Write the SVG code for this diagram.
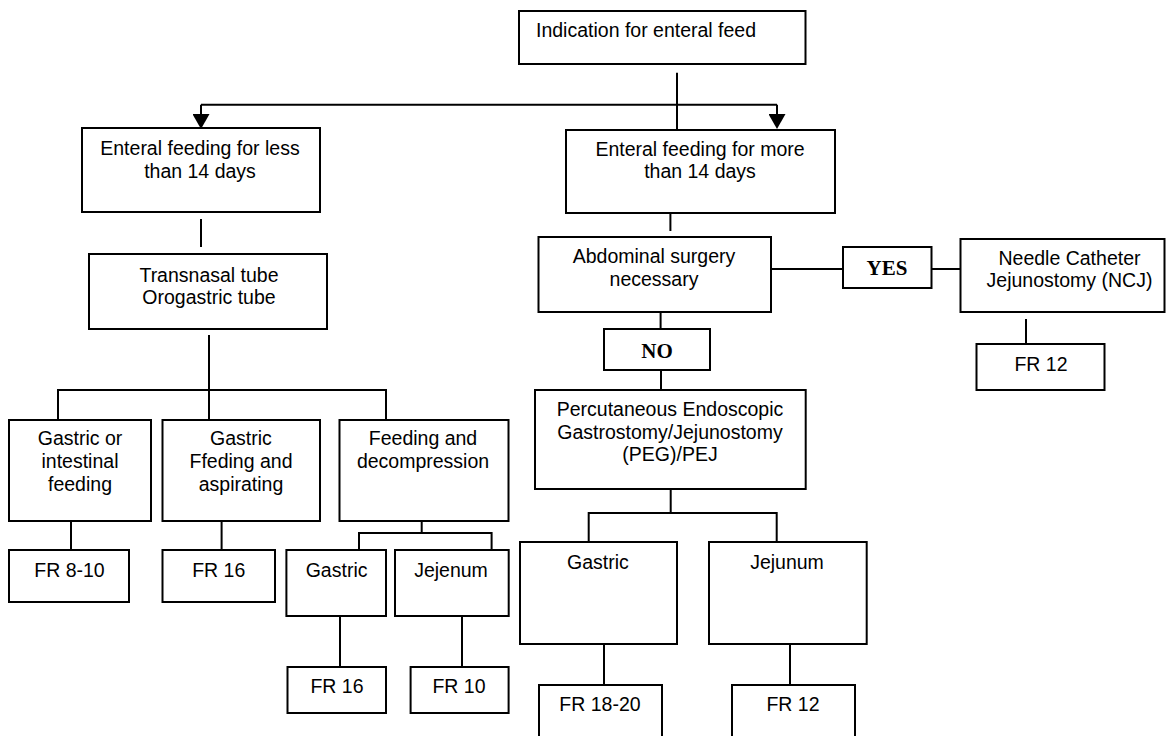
<svg xmlns="http://www.w3.org/2000/svg" width="1166" height="736" viewBox="0 0 1166 736">
<style>
rect{fill:#fff;stroke:#000;stroke-width:2}
.c path{fill:none;stroke:#000;stroke-width:2}
text{font-family:"Liberation Sans",Arial,Helvetica,sans-serif;font-size:19.5px;fill:#000;text-anchor:middle}
text.l{text-anchor:start}
text.b{font-family:"Liberation Serif","Times New Roman",serif;font-weight:bold;font-size:21px}
</style>
<defs>
<marker id="arr" markerUnits="userSpaceOnUse" markerWidth="16" markerHeight="17" refX="0" refY="8.5" orient="auto">
<path d="M0,0 L15,8.5 L0,17 z" fill="#000"/>
</marker>
</defs>
<rect x="0" y="0" width="1166" height="736" style="stroke:none"/>
<g class="c" id="connectors">
<path d="M677,72.7 V130"/>
<path d="M201,104.7 H777"/>
<path d="M201,104.7 V114" marker-end="url(#arr)"/>
<path d="M777,104.7 V114" marker-end="url(#arr)"/>
<path d="M201,219 V247"/>
<path d="M209,335 V420"/>
<path d="M58,420 V390 H386 V420"/>
<path d="M71,521 V550"/>
<path d="M221.6,521 V550"/>
<path d="M421.7,521 V533"/>
<path d="M359,550 V533 H491.6 V551"/>
<path d="M340,616 V667"/>
<path d="M462,616 V667"/>
<path d="M670.4,213 V231"/>
<path d="M771,269 H843"/>
<path d="M931.5,269 H960.5"/>
<path d="M1026,319 V344"/>
<path d="M660.6,312 V329"/>
<path d="M661,370 V390"/>
<path d="M670.7,489 V513"/>
<path d="M588.7,542 V513 H776.7 V542"/>
<path d="M604,644 V685"/>
<path d="M790,644 V685"/>
</g>
<g id="n-indication"><rect x="519" y="11" width="286.5" height="53"/><text class="l" x="536" y="37">Indication for enteral feed</text></g>
<g id="n-less14"><rect x="82" y="128" width="238" height="84"/><text x="200" y="155">Enteral feeding for less</text><text x="200" y="178">than 14 days</text></g>
<g id="n-more14"><rect x="566" y="130" width="269" height="83"/><text x="700" y="156">Enteral feeding for more</text><text x="700" y="178">than 14 days</text></g>
<g id="n-transnasal"><rect x="89" y="254" width="238" height="75"/><text x="209" y="282">Transnasal tube</text><text x="209" y="304">Orogastric tube</text></g>
<g id="n-gastric-intestinal"><rect x="9" y="420" width="142" height="101"/><text x="80" y="445">Gastric or</text><text x="80" y="468">intestinal</text><text x="80" y="491">feeding</text></g>
<g id="n-ffeding"><rect x="162.5" y="420" width="157.5" height="101"/><text x="241" y="445">Gastric</text><text x="241" y="468">Ffeding and</text><text x="241" y="491">aspirating</text></g>
<g id="n-decompression"><rect x="339.5" y="420" width="169" height="101"/><text x="423" y="445">Feeding and</text><text x="423" y="468">decompression</text></g>
<g id="n-fr8-10"><rect x="9" y="550" width="120" height="52"/><text x="69.5" y="577">FR 8-10</text></g>
<g id="n-fr16-a"><rect x="162.5" y="550" width="112.5" height="52"/><text x="218.7" y="577">FR 16</text></g>
<g id="n-gastric-l"><rect x="286.4" y="550" width="99.6" height="66"/><text x="336.6" y="577">Gastric</text></g>
<g id="n-jejenum-l"><rect x="395" y="550" width="113.7" height="66"/><text x="451" y="577">Jejenum</text></g>
<g id="n-fr16-b"><rect x="287.5" y="667" width="98.5" height="46"/><text x="337" y="693">FR 16</text></g>
<g id="n-fr10"><rect x="410.6" y="667" width="98" height="46"/><text x="459" y="693">FR 10</text></g>
<g id="n-abdominal"><rect x="538.5" y="237" width="232.5" height="75"/><text x="654" y="263">Abdominal surgery</text><text x="654" y="286">necessary</text></g>
<g id="n-yes"><rect x="843" y="247" width="88.5" height="41"/><text class="b" x="887" y="275">YES</text></g>
<g id="n-ncj"><rect x="960.5" y="239" width="204" height="73"/><text x="1069.5" y="265">Needle Catheter</text><text x="1069.5" y="287">Jejunostomy (NCJ)</text></g>
<g id="n-fr12-ncj"><rect x="976.5" y="344" width="128" height="46"/><text x="1041" y="371">FR 12</text></g>
<g id="n-no"><rect x="604" y="329" width="106" height="41"/><text class="b" x="657" y="358">NO</text></g>
<g id="n-peg"><rect x="535" y="390" width="270.7" height="99"/><text x="670" y="416">Percutaneous Endoscopic</text><text x="670" y="439">Gastrostomy/Jejunostomy</text><text x="670" y="461">(PEG)/PEJ</text></g>
<g id="n-gastric-r"><rect x="520" y="542" width="157" height="102"/><text x="598" y="569">Gastric</text></g>
<g id="n-jejunum-r"><rect x="709" y="542" width="157.7" height="102"/><text x="787" y="569">Jejunum</text></g>
<g id="n-fr18-20"><rect x="539" y="685" width="123" height="60"/><text x="600" y="711">FR 18-20</text></g>
<g id="n-fr12-r"><rect x="732" y="685" width="123" height="60"/><text x="793" y="711">FR 12</text></g>
</svg>
